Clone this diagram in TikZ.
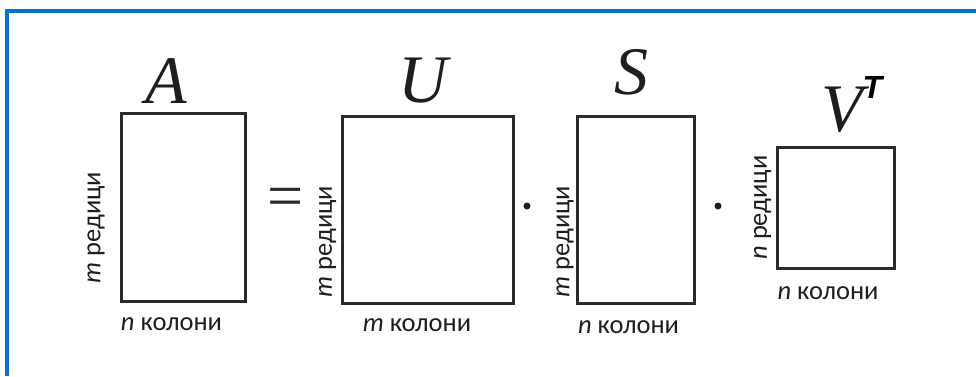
\documentclass[tikz,border=0pt]{standalone}
\usepackage{fontspec}
\setmainfont{Liberation Serif}
\newfontfamily\lblfont{Carlito}
\newfontfamily\supfont{Liberation Sans}
\definecolor{frameblue}{RGB}{10,112,208}
\definecolor{ink}{RGB}{30,30,30}
\definecolor{boxline}{RGB}{42,42,42}
\begin{document}
\begin{tikzpicture}[x=1bp,y=-1bp,
  mat/.style={draw=boxline,line width=3bp,inner sep=0pt},
  letter/.style={inner sep=0pt,anchor=base,text=ink,font=\fontsize{68bp}{68bp}\selectfont\itshape},
  dim/.style={inner sep=0pt,text=ink,font=\lblfont\fontsize{26.5bp}{26.5bp}\selectfont},
  rowdim/.style={dim,rotate=90},
  dotop/.style={circle,fill=ink,inner sep=0pt,minimum size=7bp}]
  % page and frame
  \fill[white] (0,0) rectangle (976,376);
  \useasboundingbox (0,0) rectangle (976,376);
  \coordinate (ftl) at (7,11);
  \coordinate (ftr) at (976,11);
  \coordinate (fbl) at (7,376);
  \draw[frameblue,line width=3.5bp] (fbl) -- (ftl) -- (ftr);

  % the four matrices
  \node[mat,minimum width=124bp,minimum height=188bp] (A) at (183.5,207.5) {};
  \node[mat,minimum width=171bp,minimum height=187bp] (U) at (428,210) {};
  \node[mat,minimum width=117bp,minimum height=187bp] (S) at (635.5,209.5) {};
  \node[mat,minimum width=117bp,minimum height=121bp] (V) at (835.5,207.5) {};

  % names above the matrices
  \node[letter] (Aname) at (166.5,103) {A};
  \node[letter] (Uname) at (423,102) {U};
  \node[letter] (Sname) at (631.5,94) {S};
  \node[letter] (Vname) at (842,131) {V};
  \node[inner sep=0pt,anchor=base,text=black,font=\supfont\fontsize{32bp}{32bp}\selectfont\bfseries\itshape] (Tsup) at (872.5,98) {T};

  % equals sign and multiplication dots
  \node[inner sep=0pt,text=boxline,font=\fontsize{64bp}{64bp}\selectfont] (eq) at (285.5,202.5) {=};
  \node[dotop] (dot1) at (527,206) {};
  \node[dotop] (dot2) at (718,206) {};

  % row labels
  \node[rowdim] (Arows) at (96,227.5) {\textit{m} редици};
  \node[rowdim] (Urows) at (327.5,241.5) {\textit{m} редици};
  \node[rowdim] (Srows) at (565,241.5) {\textit{m} редици};
  \node[rowdim] (Vrows) at (762.5,207.5) {\textit{n} редици};

  % column labels
  \node[dim] (Acols) at (171.5,324.5) {\textit{n} колони};
  \node[dim] (Ucols) at (417,325) {\textit{m} колони};
  \node[dim] (Scols) at (628.5,327) {\textit{n} колони};
  \node[dim] (Vcols) at (828,293) {\textit{n} колони};
\end{tikzpicture}
\end{document}
